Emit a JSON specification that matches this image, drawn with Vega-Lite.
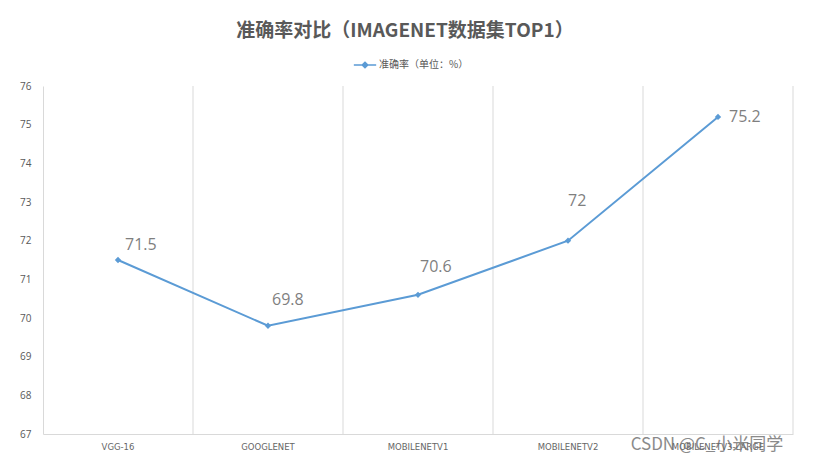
{
  "$schema": "https://vega.github.io/schema/vega-lite/v6.json",
  "width": 750,
  "height": 348,
  "autosize": "none",
  "padding": {"left": 43, "top": 86, "right": 20, "bottom": 25},
  "background": "white",
  "title": {
    "text": "准确率对比（IMAGENET数据集TOP1）",
    "fontSize": 19,
    "fontWeight": "bold",
    "color": "#595959",
    "font": "Noto Sans CJK SC",
    "anchor": "middle",
    "dx": -13,
    "offset": 12
  },
  "config": {
    "view": {"stroke": null},
    "font": "Noto Sans CJK SC",
    "axis": {"ticks": false, "domainColor": "#d9d9d9", "labelColor": "#595959", "grid": false, "title": null}
  },
  "datasets": {
    "acc": [
      {"model": "VGG-16", "accuracy": 71.5, "series": "准确率（单位：%）"},
      {"model": "GOOGLENET", "accuracy": 69.8, "series": "准确率（单位：%）"},
      {"model": "MOBILENETV1", "accuracy": 70.6, "series": "准确率（单位：%）"},
      {"model": "MOBILENETV2", "accuracy": 72, "series": "准确率（单位：%）"},
      {"model": "MOBILENETV3-LARGE", "accuracy": 75.2, "series": "准确率（单位：%）"}
    ],
    "mark": [
      {"model": "MOBILENETV3-LARGE", "accuracy": 66.8, "text": "CSDN @C_小米同学"}
    ]
  },
  "data": {"name": "acc"},
  "encoding": {
    "x": {
      "field": "model",
      "type": "nominal",
      "sort": null,
      "scale": {"paddingInner": 0, "paddingOuter": 0},
      "axis": {"labelAngle": 0, "labelFontSize": 8.5, "labelPadding": 8, "labelFont": "DejaVu Sans", "labelColor": "#666666", "domainColor": "#d9d9d9"}
    },
    "y": {
      "field": "accuracy",
      "type": "quantitative",
      "scale": {"domain": [67, 76], "nice": false, "zero": false},
      "axis": {"values": [67, 68, 69, 70, 71, 72, 73, 74, 75, 76], "labelFontSize": 10, "labelPadding": 12, "labelFont": "Open Sans"}
    }
  },
  "layer": [
    {
      "mark": {"type": "rule", "color": "#d9d9d9", "strokeWidth": 1},
      "encoding": {"x": {"field": "model", "type": "nominal", "sort": null, "bandPosition": 1}, "y": null}
    },
    {
      "mark": {"type": "line", "strokeWidth": 2, "point": {"filled": true, "shape": "diamond", "size": 40}},
      "encoding": {
        "color": {
          "field": "series",
          "type": "nominal",
          "scale": {"range": ["#5b9bd5"]},
          "legend": {
            "title": null,
            "orient": "none",
            "legendX": 310,
            "legendY": -33,
            "symbolType": "M-1,0H1M0,-0.25L0.25,0L0,0.25L-0.25,0Z",
            "symbolSize": 500,
            "symbolStrokeWidth": 1.5,
            "symbolFillColor": "#5b9bd5",
            "labelFontSize": 10,
            "labelColor": "#595959",
            "labelOffset": 2
          }
        }
      }
    },
    {
      "transform": [{"filter": "datum.model === 'VGG-16'"}],
      "mark": {"type": "text", "fontSize": 16, "color": "#7f7f7f", "align": "left", "baseline": "middle", "dx": 7, "dy": -15, "font": "Open Sans"},
      "encoding": {"text": {"field": "accuracy"}}
    },
    {
      "transform": [{"filter": "datum.model === 'GOOGLENET'"}],
      "mark": {"type": "text", "fontSize": 16, "color": "#7f7f7f", "align": "left", "baseline": "middle", "dx": 4, "dy": -26, "font": "Open Sans"},
      "encoding": {"text": {"field": "accuracy"}}
    },
    {
      "transform": [{"filter": "datum.model === 'MOBILENETV1'"}],
      "mark": {"type": "text", "fontSize": 16, "color": "#7f7f7f", "align": "left", "baseline": "middle", "dx": 2, "dy": -28, "font": "Open Sans"},
      "encoding": {"text": {"field": "accuracy"}}
    },
    {
      "transform": [{"filter": "datum.model === 'MOBILENETV2'"}],
      "mark": {"type": "text", "fontSize": 16, "color": "#7f7f7f", "align": "left", "baseline": "middle", "dx": 0, "dy": -40, "font": "Open Sans"},
      "encoding": {"text": {"field": "accuracy"}}
    },
    {
      "transform": [{"filter": "datum.model === 'MOBILENETV3-LARGE'"}],
      "mark": {"type": "text", "fontSize": 16, "color": "#7f7f7f", "align": "left", "baseline": "middle", "dx": 11, "dy": 0, "font": "Open Sans"},
      "encoding": {"text": {"field": "accuracy"}}
    },
    {
      "data": {"name": "mark"},
      "mark": {"type": "text", "fontSize": 17, "color": "#6e6e6e", "align": "center", "baseline": "middle", "dx": -11, "dy": 3, "clip": false, "opacity": 0.8},
      "encoding": {"text": {"field": "text"}}
    }
  ]
}
